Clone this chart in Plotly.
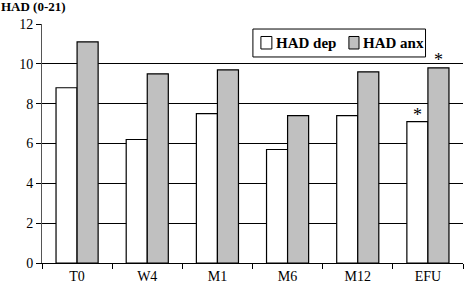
import plotly.graph_objects as go

categories = ["T0", "W4", "M1", "M6", "M12", "EFU"]
had_dep = [8.8, 6.2, 7.5, 5.7, 7.4, 7.1]
had_anx = [11.1, 9.5, 9.7, 7.4, 9.6, 9.8]
y_ticks = [0, 2, 4, 6, 8, 10, 12]
series_names = ["HAD dep", "HAD anx"]
series_colors = ["white", "#c0c0c0"]

FONT = "Liberation Serif"

fig = go.Figure()
for name, vals, col in zip(series_names, [had_dep, had_anx], series_colors):
    fig.add_trace(go.Bar(x=categories, y=vals, name=name, showlegend=False,
                         marker=dict(color=col, line=dict(color="black", width=1.2))))

# asterisks on EFU
fig.add_annotation(x="EFU", y=had_dep[-1], text="*", showarrow=False, xshift=-10.5,
                   yanchor="bottom", yshift=-5, font=dict(family=FONT, size=18, color="black"))
fig.add_annotation(x="EFU", y=had_anx[-1], text="*", showarrow=False, xshift=10.5,
                   yanchor="bottom", yshift=-4, font=dict(family=FONT, size=18, color="black"))

# boxed legend (drawn in paper coordinates)
fig.add_shape(type="rect", xref="paper", yref="paper", x0=0.501, x1=0.911, y0=0.862, y1=0.979,
              line=dict(color="black", width=1), fillcolor="white", layer="above")
leg_sq_x = [(0.520, 0.546), (0.729, 0.753)]
leg_tx_x = [0.551, 0.758]
for (sx0, sx1), tx, name, col in zip(leg_sq_x, leg_tx_x, series_names, series_colors):
    fig.add_shape(type="rect", xref="paper", yref="paper", x0=sx0, x1=sx1, y0=0.8954, y1=0.9477,
                  line=dict(color="black", width=1), fillcolor=col, layer="above")
    fig.add_annotation(xref="paper", yref="paper", x=tx, y=0.921, xanchor="left", yanchor="middle",
                       text="<b>%s</b>" % name, showarrow=False,
                       font=dict(family=FONT, size=15, color="black"))

fig.update_layout(
    width=466, height=286,
    margin=dict(l=42, r=3, t=24, b=23),
    paper_bgcolor="white", plot_bgcolor="white",
    barmode="group", bargap=0.4, bargroupgap=0,
    font=dict(family=FONT, size=14, color="black"),
    title=dict(text="<b>HAD (0-21)</b>", x=0.002, xanchor="left", y=0.995, yanchor="top",
               font=dict(family=FONT, size=13, color="black")),
    showlegend=False,
)
fig.update_xaxes(showline=True, linecolor="black", linewidth=1,
                 ticks="outside", tickson="boundaries", ticklen=5, tickcolor="black",
                 showgrid=False, tickfont=dict(family=FONT, size=14))
fig.update_yaxes(range=[0, 12], tickvals=y_ticks, showline=True, linecolor="#555555", linewidth=1,
                 ticks="outside", ticklen=5, tickcolor="black",
                 showgrid=True, gridcolor="black", gridwidth=1, zeroline=False,
                 tickfont=dict(family=FONT, size=14))

fig.write_html("out.html", config={"displayModeBar": False},
               post_script="document.body.style.margin='0';")
